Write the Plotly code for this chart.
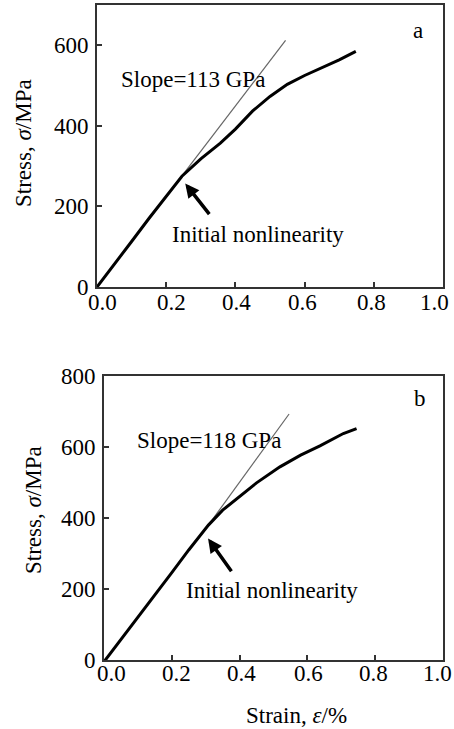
import plotly.graph_objects as go

# Panel a data
strain_a = [0.0, 0.05, 0.1, 0.15, 0.2, 0.2455, 0.3, 0.3565, 0.4, 0.45, 0.5, 0.55, 0.6, 0.637, 0.7, 0.748]
stress_a = [0, 58, 113, 170, 226, 275, 318, 357, 392, 437, 473, 503, 525, 539, 564, 585]
tangent_a_x = [0.0, 0.545]
tangent_a_y = [0, 612]

# Panel b data
strain_b = [0.0, 0.05, 0.1, 0.15, 0.2, 0.25, 0.308, 0.35, 0.401, 0.45, 0.519, 0.58, 0.637, 0.706, 0.745]
stress_b = [-5, 57, 120, 183, 246, 310, 380, 422, 460, 499, 544, 577, 603, 638, 652]
tangent_b_x = [0.308, 0.546]
tangent_b_y = [380, 693]

x_ticks = [0.0, 0.2, 0.4, 0.6, 0.8, 1.0]
x_tick_text = ["0.0", "0.2", "0.4", "0.6", "0.8", "1.0"]
y_ticks_a = [0, 200, 400, 600]
y_ticks_b = [0, 200, 400, 600, 800]

FONT = "Liberation Serif, Times New Roman, serif"
W, H = 454, 729
FS = 23

# horizontal pixel offsets of the x tick labels relative to their ticks (style only)
label_shift_a = [5, 5.5, 1, -2, -2, -8.5]
label_shift_b = [7, 5, 2, 1, -1.5, -6]

fig = go.Figure()
fig.add_trace(go.Scatter(x=tangent_a_x, y=tangent_a_y, mode="lines",
                         line=dict(color="#666", width=1.2), xaxis="x", yaxis="y", showlegend=False))
fig.add_trace(go.Scatter(x=strain_a, y=stress_a, mode="lines",
                         line=dict(color="black", width=3), xaxis="x", yaxis="y", showlegend=False))
fig.add_trace(go.Scatter(x=tangent_b_x, y=tangent_b_y, mode="lines",
                         line=dict(color="#666", width=1.2), xaxis="x2", yaxis="y2", showlegend=False))
fig.add_trace(go.Scatter(x=strain_b, y=stress_b, mode="lines",
                         line=dict(color="black", width=3), xaxis="x2", yaxis="y2", showlegend=False))

axis_common = dict(showgrid=False, zeroline=False, showline=True, mirror=True, automargin=False,
                   linecolor="#333", linewidth=2, ticks="inside", ticklen=5, tickwidth=2,
                   tickcolor="#333", tickfont=dict(family=FONT, size=FS, color="black"))
yaxis_extra = dict(ticklabelstandoff=2)

fig.update_layout(
    width=W, height=H, margin=dict(l=0, r=0, t=0, b=0, autoexpand=False),
    plot_bgcolor="white", paper_bgcolor="white",
    xaxis=dict(domain=[97 / W, 443 / W], range=[0, 1.0], tickvals=x_ticks, showticklabels=False,
               anchor="y", **axis_common),
    yaxis=dict(domain=[(H - 287) / H, (H - 5) / H], range=[0, 700], tickvals=y_ticks_a,
               anchor="x", **axis_common, **yaxis_extra),
    xaxis2=dict(domain=[104 / W, 443 / W], range=[0, 1.0], tickvals=x_ticks, showticklabels=False,
                anchor="y2", **axis_common),
    yaxis2=dict(domain=[(H - 660) / H, (H - 376) / H], range=[0, 800], tickvals=y_ticks_b,
                anchor="x2", **axis_common, **yaxis_extra),
)

tf = dict(family=FONT, size=FS, color="black")
C = dict(xanchor="center", yanchor="middle", showarrow=False, font=tf)
annots = [
    # panel labels
    dict(x=418 / W, y=1 - 30 / H, xref="paper", yref="paper", text="a", **C),
    dict(x=420 / W, y=1 - 398 / H, xref="paper", yref="paper", text="b", **C),
    # slope texts
    dict(x=0.278, y=516, xref="x", yref="y", text="Slope=113 GPa", **C),
    dict(x=0.31, y=619, xref="x2", yref="y2", text="Slope=118 GPa", **C),
    # nonlinearity texts
    dict(x=0.466, y=131, xref="x", yref="y", text="Initial nonlinearity", **C),
    dict(x=0.497, y=197, xref="x2", yref="y2", text="Initial nonlinearity", **C),
    # arrows
    dict(x=0.255, y=257, xref="x", yref="y", ax=0.328, ay=177, axref="x", ayref="y", text="",
         showarrow=True, arrowhead=2, arrowsize=0.8, arrowwidth=3.5, arrowcolor="black"),
    dict(x=0.307, y=342, xref="x2", yref="y2", ax=0.379, ay=246, axref="x2", ayref="y2", text="",
         showarrow=True, arrowhead=2, arrowsize=0.8, arrowwidth=3.5, arrowcolor="black"),
    # axis titles
    dict(x=23 / W, y=1 - 143 / H, xref="paper", yref="paper", text="Stress, <i>σ</i>/MPa",
         textangle=-90, **C),
    dict(x=33 / W, y=1 - 510 / H, xref="paper", yref="paper", text="Stress, <i>σ</i>/MPa",
         textangle=-90, **C),
    dict(x=296 / W, y=1 - 715 / H, xref="paper", yref="paper", text="Strain, <i>ε</i>/%", **C),
]

# x tick labels placed at the tick values through the axis scale
for xv, txt, sh in zip(x_ticks, x_tick_text, label_shift_a):
    annots.append(dict(x=xv, y=0, xref="x", yref="y", text=txt, xshift=sh, yshift=-15, **C))
for xv, txt, sh in zip(x_ticks, x_tick_text, label_shift_b):
    annots.append(dict(x=xv, y=0, xref="x2", yref="y2", text=txt, xshift=sh, yshift=-13, **C))

fig.update_layout(annotations=annots)

fig.write_html("out.html", config={"displayModeBar": False},
               post_script="document.body.style.margin='0';document.body.style.overflow='hidden';")
